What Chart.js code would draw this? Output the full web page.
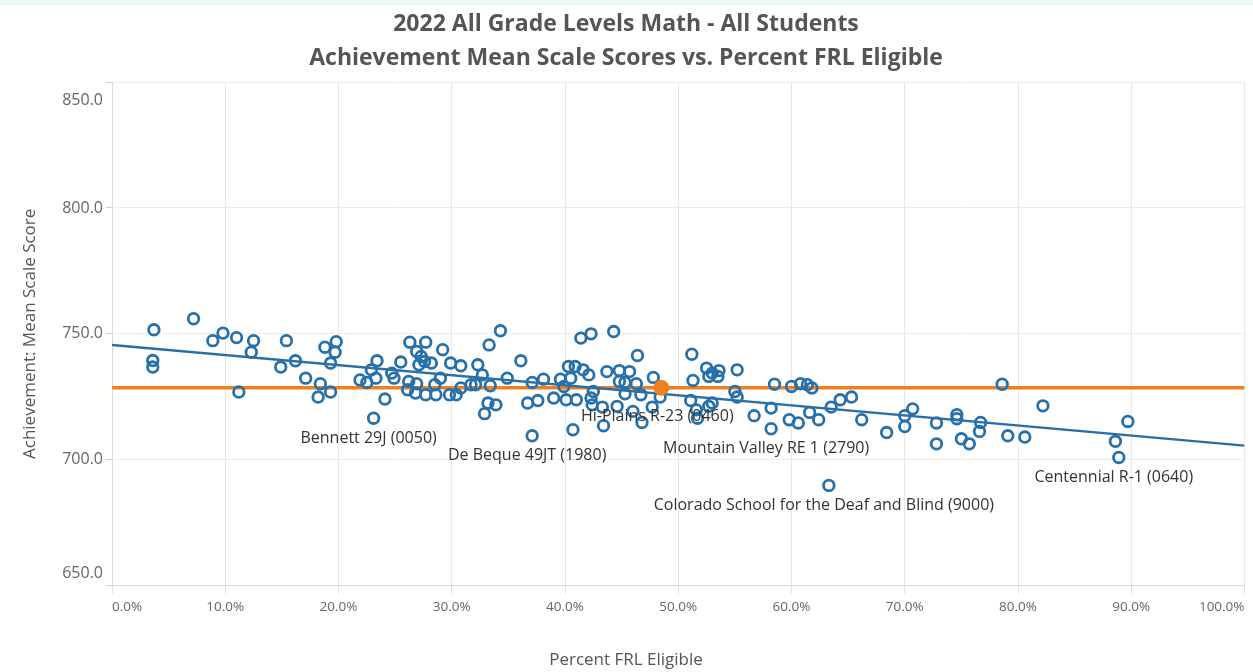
<!DOCTYPE html>
<html>
<head>
<meta charset="utf-8">
<script src="https://cdn.jsdelivr.net/npm/chart.js@4.4.1/dist/chart.umd.min.js"></script>
<style>
  html, body { margin: 0; padding: 0; background: #fff; }
  #wrap { position: relative; width: 1253px; height: 672px; }
  #band { position: absolute; left: 0; top: 0; width: 1253px; height: 5px; background: #eef7fa; }
  canvas { position: absolute; left: 0; top: 0; }
</style>
</head>
<body>
<div id="wrap">
  <canvas id="frlChart" width="1253" height="672"></canvas>
  <div id="band"></div>
</div>
<script>
// district values: percent FRL eligible vs mean scale score
const frlPct = [3.7, 7.2, 3.6, 3.6, 8.9, 9.8, 11.0, 11.2, 12.5, 12.3, 15.4, 14.9, 16.2, 17.1, 18.4, 18.2, 19.3, 18.8, 19.3, 19.8,
  19.7, 23.4, 22.9, 21.9, 22.5, 23.3, 24.1, 23.1, 24.7, 24.9, 25.5, 26.3, 26.9, 27.7, 27.3, 27.6, 27.1, 28.2, 26.2, 26.1,
  26.9, 26.8, 27.7, 28.5, 28.6, 29.2, 29.0, 29.9, 30.8, 29.8, 30.4, 30.8, 31.7, 32.1, 32.3, 32.7, 33.4, 33.3, 34.3, 33.2,
  33.9, 32.9, 34.9, 36.1, 37.1, 38.1, 36.7, 37.6, 37.1, 39.0, 39.6, 39.9, 40.3, 40.9, 40.5, 40.1, 41.0, 41.4, 42.3, 44.3,
  41.6, 42.1, 42.5, 42.3, 42.4, 40.7, 43.7, 43.3, 43.4, 44.8, 45.7, 44.8, 45.3, 45.3, 44.6, 46.3, 46.4, 46.7, 46.0, 46.8,
  47.8, 48.4, 47.7, 51.2, 51.3, 51.1, 51.6, 51.7, 52.5, 52.7, 52.7, 53.0, 53.6, 53.5, 53.0, 55.2, 55.0, 55.2, 56.7, 58.2,
  58.2, 58.5, 59.8, 60.6, 60.0, 60.8, 61.4, 61.8, 61.6, 62.4, 63.5, 64.3, 65.3, 66.2, 68.4, 70.0, 70.0, 70.7, 72.8, 72.8,
  74.6, 74.6, 75.0, 75.7, 76.7, 76.6, 78.6, 79.1, 80.6, 82.2, 88.6, 88.9, 89.7, 63.3];
const mssScore = [751.6, 756.0, 739.4, 736.8, 747.3, 750.3, 748.5, 726.9, 747.3, 742.7, 747.3, 736.8, 739.3, 732.4, 730.2, 724.9, 726.9, 744.7, 738.4, 746.9,
  742.7, 739.3, 735.7, 731.7, 730.7, 732.4, 724.1, 716.5, 734.4, 732.4, 738.8, 746.7, 743.0, 746.7, 741.0, 739.0, 737.7, 738.4, 731.1, 727.8,
  730.2, 726.5, 725.8, 729.8, 725.8, 743.7, 732.4, 738.4, 737.3, 725.8, 725.8, 728.5, 729.8, 729.8, 737.7, 733.7, 729.4, 745.6, 751.2, 722.5,
  721.8, 718.3, 732.4, 739.3, 730.7, 732.0, 722.5, 723.5, 709.5, 724.5, 732.0, 729.1, 737.0, 737.0, 732.4, 723.8, 723.8, 748.3, 750.0, 750.9,
  735.7, 733.7, 727.1, 724.5, 721.8, 711.9, 735.0, 720.9, 713.5, 735.4, 735.0, 731.1, 730.7, 726.2, 721.2, 730.2, 741.4, 725.8, 719.2, 714.8,
  732.7, 724.9, 720.9, 741.9, 731.5, 723.5, 719.8, 716.5, 736.4, 733.1, 721.2, 734.4, 735.4, 733.1, 722.5, 735.7, 727.1, 724.9, 717.5, 720.5,
  712.3, 730.0, 715.9, 714.6, 729.1, 730.2, 729.8, 728.5, 718.8, 715.9, 720.9, 723.8, 724.9, 715.9, 710.8, 717.5, 713.2, 720.2, 714.6, 706.3,
  717.9, 716.3, 708.3, 706.3, 714.8, 711.2, 730.0, 709.5, 709.0, 721.4, 707.3, 700.9, 715.2, 689.8];

// labelled districts
const labelNames = ["Bennett 29J (0050)", "De Beque 49JT (1980)", "Mountain Valley RE 1 (2790)",
  "Colorado School for the Deaf and Blind (9000)", "Centennial R-1 (0640)"];
const labelFrl = [23.1, 37.1, 58.2, 63.3, 88.9];
const labelScore = [716.5, 709.5, 712.3, 689.8, 700.9];

// selected district + its reference line
const selName = "Hi-Plains R-23 (0460)";
const selFrl = 48.5;
const selScore = 728.6;

// trend line end points
const trendFrl = [0, 100];
const trendScore = [745.6, 705.6];

const xTicks = [0, 10, 20, 30, 40, 50, 60, 70, 80, 90, 100];
const yTicks = [650, 700, 750, 800, 850];

const blue = "#2670ab";
const orange = "#f07f22";
const grey = "#555";
const font = "'Open Sans', 'Noto Sans', sans-serif";

const markLabels = {
  id: "markLabels",
  afterDatasetsDraw(chart) {
    const { ctx, scales: { x, y } } = chart;
    ctx.save();
    ctx.font = "16px " + font;
    ctx.fillStyle = "#333";
    ctx.textAlign = "center";
    ctx.textBaseline = "middle";
    labelNames.forEach((name, i) => {
      ctx.fillText(name, x.getPixelForValue(labelFrl[i]) - 5, y.getPixelForValue(labelScore[i]) + 20);
    });
    ctx.fillText(selName, x.getPixelForValue(selFrl) - 4, y.getPixelForValue(selScore) + 29);
    ctx.restore();
  }
};

// push the end labels of the y axis inside the plot, like the original
const endLabels = {
  id: "endLabels",
  beforeDraw(chart) {
    const items = chart.scales.y.getLabelItems();
    if (!items.length) return;
    items[0].options.translation[1] -= 12;
    items[items.length - 1].options.translation[1] += 18;
  }
};

const ctx = document.getElementById("frlChart").getContext("2d");
new Chart(ctx, {
  type: "scatter",
  data: {
    datasets: [
      {
        label: "Selected",
        data: [{ x: selFrl, y: selScore }],
        pointRadius: 7.5,
        pointHoverRadius: 7.5,
        backgroundColor: orange,
        borderColor: orange,
        order: 0
      },
      {
        label: "Districts",
        data: frlPct.map((v, i) => ({ x: v, y: mssScore[i] })),
        pointRadius: 5.3,
        pointHoverRadius: 5.3,
        borderWidth: 2.8,
        borderColor: blue,
        backgroundColor: "rgba(0,0,0,0)",
        order: 1
      },
      {
        type: "line",
        label: "Trend",
        data: trendFrl.map((v, i) => ({ x: v, y: trendScore[i] })),
        borderColor: "#2a6ea6",
        borderWidth: 2.5,
        pointRadius: 0,
        order: 2
      },
      {
        type: "line",
        label: "Reference",
        data: [{ x: xTicks[0], y: selScore }, { x: xTicks[xTicks.length - 1], y: selScore }],
        borderColor: orange,
        borderWidth: 3.5,
        pointRadius: 0,
        order: 3
      }
    ]
  },
  options: {
    responsive: false,
    animation: false,
    events: [],
    layout: { padding: { left: 0, right: 1, top: 0, bottom: 0 } },
    plugins: {
      legend: { display: false },
      tooltip: { enabled: false },
      title: {
        display: true,
        text: ["2022 All Grade Levels Math - All Students", "Achievement Mean Scale Scores vs. Percent FRL Eligible"],
        color: grey,
        font: { family: font, size: 23, weight: "bold", lineHeight: 1.48 },
        padding: { top: 7, bottom: 7 }
      },
      subtitle: {
        display: true,
        position: "bottom",
        text: "Percent FRL Eligible",
        color: grey,
        font: { family: font, size: 17, lineHeight: 1.2 },
        padding: { top: 0, bottom: 2 }
      }
    },
    scales: {
      x: {
        type: "linear",
        min: xTicks[0],
        max: xTicks[xTicks.length - 1],
        afterBuildTicks: s => { s.ticks = xTicks.map(v => ({ value: v })); },
        afterFit: s => { s.height = 64; },
        grid: { color: "#e8e8e8", tickLength: 8, tickColor: "#e0e0e0" },
        border: { color: "#d9d9d9" },
        ticks: {
          align: "inner",
          padding: 5,
          color: "#666",
          font: { family: font, size: 13.5 },
          callback: v => v.toFixed(1) + "%"
        }
      },
      y: {
        type: "linear",
        min: yTicks[0],
        max: yTicks[yTicks.length - 1],
        afterBuildTicks: s => { s.ticks = yTicks.map(v => ({ value: v })); },
        afterFit: s => { s.width = 112; },
        grid: { color: "#ececec", tickLength: 6, tickColor: "#d0d0d0" },
        border: { color: "#d9d9d9" },
        title: {
          display: true,
          text: "Achievement: Mean Scale Score",
          color: grey,
          font: { family: font, size: 17, lineHeight: 1.2 },
          padding: { top: 20, bottom: 0 }
        },
        ticks: {
          padding: 3,
          color: "#666",
          font: { family: font, size: 16 },
          callback: v => v.toFixed(1)
        }
      }
    }
  },
  plugins: [endLabels, markLabels]
});
</script>
</body>
</html>
